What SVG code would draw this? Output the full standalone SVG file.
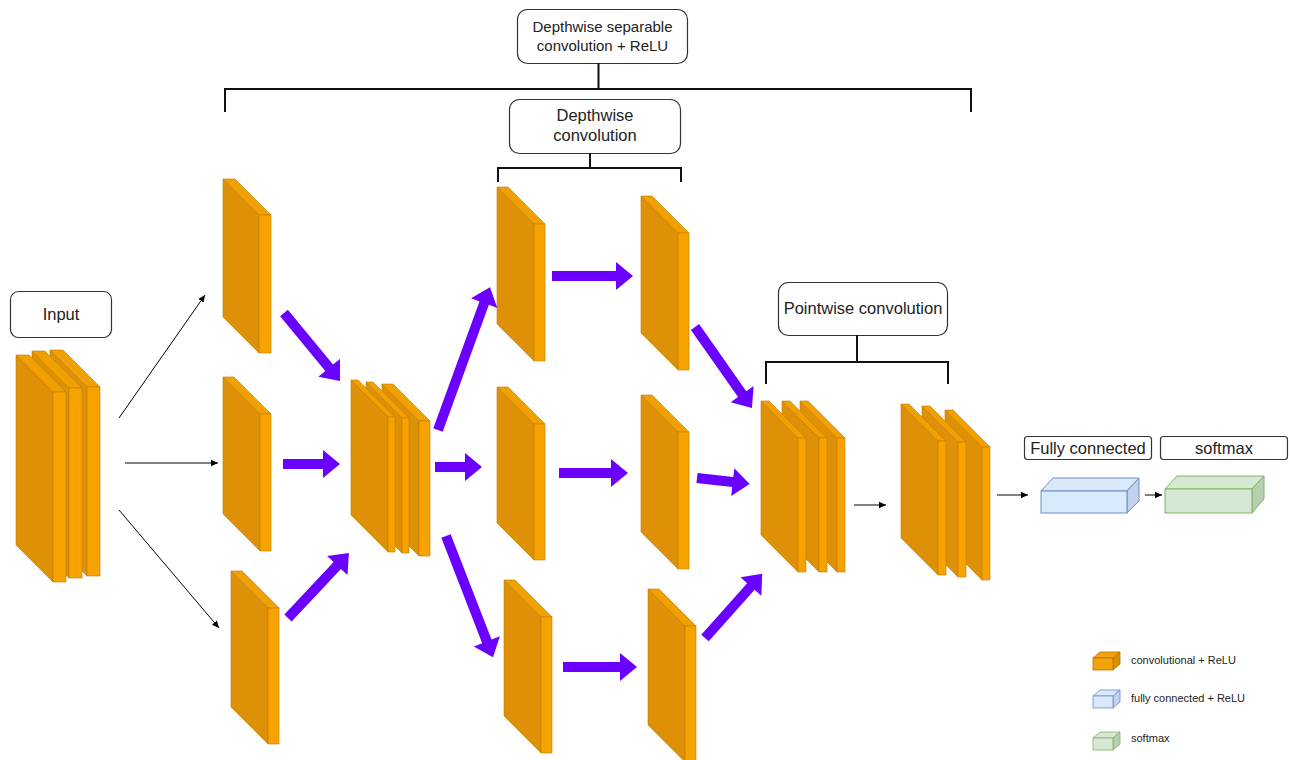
<svg xmlns="http://www.w3.org/2000/svg" width="1290" height="760" viewBox="0 0 1290 760">
<style>
.sd{fill:#DE9106;stroke:#C27C00;stroke-width:0.6}
.fr{fill:#F6A300;stroke:#C27C00;stroke-width:0.6}
.tp{fill:#F0A000;stroke:#C27C00;stroke-width:0.6}
.lbl{fill:#fff;stroke:#333;stroke-width:1.2}
.t{font-family:"Liberation Sans",Arial,sans-serif;fill:#222;text-anchor:middle}
.lg{font-family:"Liberation Sans",Arial,sans-serif;fill:#222;font-size:11px}
.br{fill:none;stroke:#111;stroke-width:2}
.ba{stroke:#000;stroke-width:1;fill:none;marker-end:url(#ah)}
.pa{fill:#6A00FF}
</style>
<defs>
<marker id="ah" markerWidth="8" markerHeight="8" refX="7" refY="4" orient="auto" markerUnits="userSpaceOnUse">
<path d="M0,0.8 L7,4 L0,7.2 Z" fill="#000"/>
</marker>
</defs>
<rect width="1290" height="760" fill="#fff"/>

<!-- labels and brackets -->
<g id="lbl-dsc">
<rect class="lbl" x="517.5" y="9.5" width="170" height="54" rx="10"/>
<text class="t" x="602.5" y="32" font-size="15">Depthwise separable</text>
<text class="t" x="602.5" y="51" font-size="15">convolution + ReLU</text>
</g>
<g id="lbl-dw">
<rect class="lbl" x="509.5" y="99.5" width="171" height="54" rx="10"/>
<text class="t" x="595" y="121" font-size="16.5">Depthwise</text>
<text class="t" x="595" y="141" font-size="16.5">convolution</text>
</g>
<g id="lbl-pw">
<rect class="lbl" x="778.5" y="282.5" width="169" height="53" rx="10"/>
<text class="t" x="863" y="314" font-size="16.5">Pointwise convolution</text>
</g>
<g id="lbl-input">
<rect class="lbl" x="10.5" y="291.5" width="101" height="46" rx="8"/>
<text class="t" x="61" y="320" font-size="16.5">Input</text>
</g>
<g id="lbl-fc">
<rect class="lbl" x="1024.5" y="436.5" width="127" height="23" rx="3"/>
<text class="t" x="1088" y="454" font-size="16.5">Fully connected</text>
</g>
<g id="lbl-sm">
<rect class="lbl" x="1160.5" y="436.5" width="127" height="23" rx="3"/>
<text class="t" x="1224" y="454" font-size="16.5">softmax</text>
</g>

<g id="brackets">
<path class="br" d="M598.5,63 V89 M225,112 V89 H971 V112"/>
<path class="br" d="M590,153 V168 M498,182 V168 H681 V182"/>
<path class="br" d="M857,335 V362 M766,384 V362 H948 V384"/>
</g>

<!-- input stack -->
<g id="input-stack">
<polygon class="sd" points="50,350 87,387 87,576 50,539"/><polygon class="tp" points="50,350 63,350 100,387 87,387"/><rect class="fr" x="87" y="387" width="13" height="189"/>
<polygon class="sd" points="32,351 69,388 69,578 32,541"/><polygon class="tp" points="32,351 45,351 82,388 69,388"/><rect class="fr" x="69" y="388" width="13" height="190"/>
<polygon class="sd" points="16,355 53,392 53,582 16,545"/><polygon class="tp" points="16,355 29,355 66,392 53,392"/><rect class="fr" x="53" y="392" width="13" height="190"/>
</g>

<!-- column 1 -->
<g id="c1-top"><polygon class="sd" points="223,179 259,215 259,353 223,317"/><polygon class="tp" points="223,179 235,179 271,215 259,215"/><rect class="fr" x="259" y="215" width="12" height="138"/></g>
<g id="c1-mid"><polygon class="sd" points="223,377 260,414 260,551 223,514"/><polygon class="tp" points="223,377 234,377 271,414 260,414"/><rect class="fr" x="260" y="414" width="11" height="137"/></g>
<g id="c1-bot"><polygon class="sd" points="231,571 268,608 268,744 231,707"/><polygon class="tp" points="231,571 242,571 279,608 268,608"/><rect class="fr" x="268" y="608" width="11" height="136"/></g>

<!-- middle stack -->
<g id="mid-stack">
<polygon class="sd" points="382,384 419,421 419,556 382,519"/><polygon class="tp" points="382,384 393,384 430,421 419,421"/><rect class="fr" x="419" y="421" width="11" height="135"/>
<polygon class="sd" points="366,382 402,418 402,553 366,517"/><polygon class="tp" points="366,382 373,382 409,418 402,418"/><rect class="fr" x="402" y="418" width="7" height="135"/>
<polygon class="sd" points="351,380 388,417 388,552 351,515"/><polygon class="tp" points="351,380 358,380 395,417 388,417"/><rect class="fr" x="388" y="417" width="7" height="135"/>
</g>

<!-- column 2 -->
<g id="c2-top"><polygon class="sd" points="497,187 534,224 534,361 497,324"/><polygon class="tp" points="497,187 508,187 545,224 534,224"/><rect class="fr" x="534" y="224" width="11" height="137"/></g>
<g id="c2-mid"><polygon class="sd" points="497,387 534,424 534,560 497,523"/><polygon class="tp" points="497,387 508,387 545,424 534,424"/><rect class="fr" x="534" y="424" width="11" height="136"/></g>
<g id="c2-bot"><polygon class="sd" points="504,580 541,617 541,753 504,716"/><polygon class="tp" points="504,580 515,580 552,617 541,617"/><rect class="fr" x="541" y="617" width="11" height="136"/></g>

<!-- column 3 -->
<g id="c3-top"><polygon class="sd" points="641,196 678,233 678,370 641,333"/><polygon class="tp" points="641,196 652,196 689,233 678,233"/><rect class="fr" x="678" y="233" width="11" height="137"/></g>
<g id="c3-mid"><polygon class="sd" points="641,395 678,432 678,569 641,532"/><polygon class="tp" points="641,395 652,395 689,432 678,432"/><rect class="fr" x="678" y="432" width="11" height="137"/></g>
<g id="c3-bot"><polygon class="sd" points="648,589 685,626 685,762 648,725"/><polygon class="tp" points="648,589 659,589 696,626 685,626"/><rect class="fr" x="685" y="626" width="11" height="136"/></g>

<!-- pointwise stacks -->
<g id="pw-stack1">
<polygon class="sd" points="800,401 837,438 837,572 800,535"/><polygon class="tp" points="800,401 808,401 845,438 837,438"/><rect class="fr" x="837" y="438" width="8" height="134"/>
<polygon class="sd" points="782,401 819,438 819,572 782,535"/><polygon class="tp" points="782,401 790,401 827,438 819,438"/><rect class="fr" x="819" y="438" width="8" height="134"/>
<polygon class="sd" points="761,401 798,438 798,572 761,535"/><polygon class="tp" points="761,401 769,401 806,438 798,438"/><rect class="fr" x="798" y="438" width="8" height="134"/>
</g>
<g id="pw-stack2">
<polygon class="sd" points="945,410 982,447 982,580 945,543"/><polygon class="tp" points="945,410 953,410 990,447 982,447"/><rect class="fr" x="982" y="447" width="8" height="133"/>
<polygon class="sd" points="922,406 958,442 958,577 922,541"/><polygon class="tp" points="922,406 930,406 966,442 958,442"/><rect class="fr" x="958" y="442" width="8" height="135"/>
<polygon class="sd" points="901,404 938,441 938,575 901,538"/><polygon class="tp" points="901,404 909,404 946,441 938,441"/><rect class="fr" x="938" y="441" width="8" height="134"/>
</g>

<!-- FC and softmax blocks -->
<g id="fc-block">
<polygon points="1041,491 1053,478 1139,478 1127,491" fill="#DAE8FC" stroke="#6C8EBF" stroke-width="1"/>
<polygon points="1127,491 1139,478 1139,501 1127,513" fill="#C2D2EC" stroke="#6C8EBF" stroke-width="1"/>
<rect x="1041" y="491" width="86" height="22" fill="#DAE8FC" stroke="#6C8EBF" stroke-width="1"/>
</g>
<g id="softmax-block">
<polygon points="1165,489 1177,476 1264,476 1252,489" fill="#D5E8D4" stroke="#82B366" stroke-width="1"/>
<polygon points="1252,489 1264,476 1264,499 1252,513" fill="#B5D0B1" stroke="#82B366" stroke-width="1"/>
<rect x="1165" y="489" width="87" height="24" fill="#D5E8D4" stroke="#82B366" stroke-width="1"/>
</g>

<!-- connectors -->
<g id="connectors">
<line class="ba" x1="119" y1="418" x2="205" y2="295"/>
<line class="ba" x1="125" y1="463" x2="218" y2="463"/>
<line class="ba" x1="119" y1="510" x2="219" y2="628"/>
<line class="ba" x1="854" y1="505" x2="886" y2="505"/>
<line class="ba" x1="997" y1="495" x2="1028" y2="495"/>
<line class="ba" x1="1145" y1="495" x2="1162" y2="495"/>

<polygon class="pa" transform="translate(284,313) rotate(50.5)" points="0,-5 71,-5 71,-14 88,0 71,14 71,5 0,5"/>
<polygon class="pa" transform="translate(283,464)" points="0,-5 40,-5 40,-14 57,0 40,14 40,5 0,5"/>
<polygon class="pa" transform="translate(288,618) rotate(-46.8)" points="0,-5 72,-5 72,-14 89,0 72,14 72,5 0,5"/>
<polygon class="pa" transform="translate(438,430) rotate(-70)" points="0,-5 135,-5 135,-14 152,0 135,14 135,5 0,5"/>
<polygon class="pa" transform="translate(435,467)" points="0,-5 30,-5 30,-14 47,0 30,14 30,5 0,5"/>
<polygon class="pa" transform="translate(446,536) rotate(68.8)" points="0,-5 113,-5 113,-14 130,0 113,14 113,5 0,5"/>
<polygon class="pa" transform="translate(552,276)" points="0,-5 64,-5 64,-14 81,0 64,14 64,5 0,5"/>
<polygon class="pa" transform="translate(559,473)" points="0,-5 52,-5 52,-14 69,0 52,14 52,5 0,5"/>
<polygon class="pa" transform="translate(563,667)" points="0,-5 57,-5 57,-14 74,0 57,14 57,5 0,5"/>
<polygon class="pa" transform="translate(695,327) rotate(54.9)" points="0,-5 82,-5 82,-14 99,0 82,14 82,5 0,5"/>
<polygon class="pa" transform="translate(697,478) rotate(6.5)" points="0,-5 36,-5 36,-14 53,0 36,14 36,5 0,5"/>
<polygon class="pa" transform="translate(705,638) rotate(-48.3)" points="0,-5 69,-5 69,-14 86,0 69,14 69,5 0,5"/>
</g>

<!-- legend -->
<g id="legend-conv">
<polygon points="1093,658 1100,652 1120,652 1113,658" fill="#F0A30A" stroke="#BD7000" stroke-width="0.8"/>
<polygon points="1113,658 1120,652 1120,664 1113,670" fill="#D98F00" stroke="#BD7000" stroke-width="0.8"/>
<rect x="1093" y="658" width="20" height="12" fill="#F0A30A" stroke="#BD7000" stroke-width="0.8"/>
<text class="lg" x="1131" y="664">convolutional + ReLU</text>
</g>
<g id="legend-fc">
<polygon points="1093,696 1100,690 1120,690 1113,696" fill="#DAE8FC" stroke="#6C8EBF" stroke-width="0.8"/>
<polygon points="1113,696 1120,690 1120,702 1113,708" fill="#C2D2EC" stroke="#6C8EBF" stroke-width="0.8"/>
<rect x="1093" y="696" width="20" height="12" fill="#DAE8FC" stroke="#6C8EBF" stroke-width="0.8"/>
<text class="lg" x="1131" y="702">fully connected + ReLU</text>
</g>
<g id="legend-sm">
<polygon points="1093,738 1100,732 1120,732 1113,738" fill="#D5E8D4" stroke="#82B366" stroke-width="0.8"/>
<polygon points="1113,738 1120,732 1120,744 1113,750" fill="#B5D0B1" stroke="#82B366" stroke-width="0.8"/>
<rect x="1093" y="738" width="20" height="12" fill="#D5E8D4" stroke="#82B366" stroke-width="0.8"/>
<text class="lg" x="1131" y="742">softmax</text>
</g>
</svg>
